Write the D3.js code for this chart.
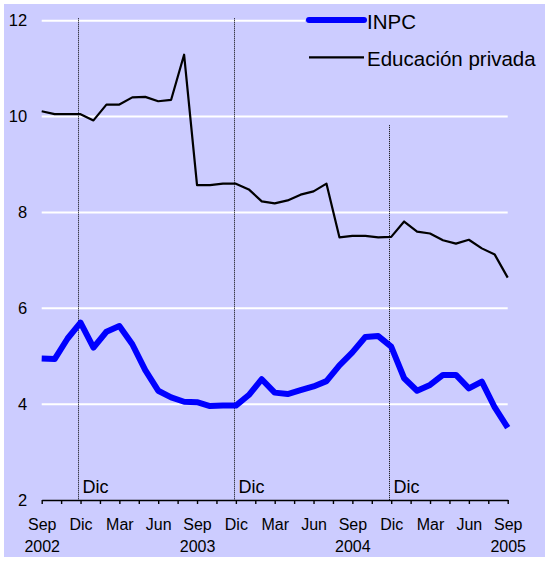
<!DOCTYPE html>
<html>
<head>
<meta charset="utf-8">
<script src="https://cdn.jsdelivr.net/npm/d3@7"></script>
<style>
  body { margin: 0; background: #fff; }
  svg text { font-family: "Liberation Sans", Arial, sans-serif; fill: #000; }
</style>
</head>
<body>
<div id="chart"></div>
<script>
// monthly, Sep 2002 .. Sep 2005
var inpc = [4.95, 4.94, 5.37, 5.70, 5.18, 5.51, 5.63, 5.25, 4.71, 4.28, 4.14, 4.05, 4.04,
            3.96, 3.97, 3.97, 4.19, 4.52, 4.24, 4.21, 4.29, 4.37, 4.48, 4.81, 5.08,
            5.40, 5.42, 5.20, 4.54, 4.28, 4.40, 4.61, 4.61, 4.33, 4.47, 3.93, 3.51];
var educacion = [10.11, 10.05, 10.05, 10.05, 9.92, 10.25, 10.25, 10.40, 10.41, 10.32, 10.35, 11.29, 8.57,
                 8.57, 8.60, 8.60, 8.48, 8.23, 8.19, 8.25, 8.37, 8.44, 8.60, 7.48, 7.51,
                 7.51, 7.48, 7.49, 7.81, 7.60, 7.56, 7.42, 7.35, 7.43, 7.25, 7.12, 6.64];
var monthLabels = ["Sep", "Dic", "Mar", "Jun"];
var yearLabels = ["2002", "2003", "2004", "2005"];
var yTicks = [2, 4, 6, 8, 10, 12];
var dicMonths = [3, 15, 27];
var dicTops = [12.05, 12.05, 9.82];
var seriesNames = ["INPC", "Educación privada"];

var width = 545, height = 561;
var svg = d3.select("#chart").append("svg")
  .attr("width", width).attr("height", height);

svg.append("rect")
  .attr("x", 4).attr("y", 4)
  .attr("width", width - 4).attr("height", 553)
  .attr("fill", "#ccccff");

var x = d3.scaleLinear().domain([0, inpc.length - 1]).range([41.7, 507.7]);
var y = d3.scaleLinear().domain([2, 12]).range([500, 20.7]);

// white gridlines
svg.append("g")
  .selectAll("line")
  .data(yTicks.slice(1))
  .enter().append("line")
  .attr("x1", x(0)).attr("x2", x(36))
  .attr("y1", function(d) { return y(d); })
  .attr("y2", function(d) { return y(d); })
  .attr("stroke", "#fff")
  .attr("stroke-width", 2);

// y labels
var yAxis = svg.append("g")
  .attr("transform", "translate(" + x(0) + ",0)")
  .call(d3.axisLeft(y).tickValues(yTicks).tickSize(0).tickPadding(14.5));
yAxis.select(".domain").remove();
yAxis.selectAll("text")
  .style("font-size", "16.5px")
  .attr("font-family", null);

// Dic markers (dotted)
function dicX(d) { return Math.floor(x(d - 0.12)) + 0.5; }

svg.append("g")
  .selectAll("line")
  .data(dicMonths)
  .enter().append("line")
  .attr("x1", dicX)
  .attr("x2", dicX)
  .attr("y1", function(d, i) { return y(dicTops[i]); })
  .attr("y2", y(2))
  .attr("stroke", "#000")
  .attr("stroke-width", 1)
  .attr("stroke-dasharray", "1,1");

svg.append("g")
  .selectAll("text")
  .data(dicMonths)
  .enter().append("text")
  .attr("x", function(d) { return dicX(d) + 4; })
  .attr("y", 492.5)
  .style("font-size", "18px")
  .text("Dic");

// x axis: ticks every month and a half
var xAxis = svg.append("g")
  .attr("transform", "translate(0," + y(2) + ")")
  .call(d3.axisBottom(x)
    .tickValues(d3.range(0, 36.01, 1.5))
    .tickSize(4)
    .tickSizeOuter(0)
    .tickFormat(""));
xAxis.select(".domain").attr("stroke", "#000").attr("stroke-width", 1.4);
xAxis.selectAll(".tick line").attr("stroke", "#000").attr("stroke-width", 1.4);

var monthAxis = svg.append("g")
  .attr("transform", "translate(0," + y(2) + ")")
  .call(d3.axisBottom(x)
    .tickValues(d3.range(0, 37, 3))
    .tickSize(0)
    .tickFormat(function(d) { return monthLabels[(d / 3) % 4]; }));
monthAxis.select(".domain").remove();
monthAxis.selectAll("text")
  .attr("y", 30).attr("dy", null)
  .attr("font-family", null)
  .style("font-size", "16px");

var yearAxis = svg.append("g")
  .attr("transform", "translate(0," + y(2) + ")")
  .call(d3.axisBottom(x)
    .tickValues([0, 12, 24, 36])
    .tickSize(0)
    .tickFormat(function(d) { return yearLabels[d / 12]; }));
yearAxis.select(".domain").remove();
yearAxis.selectAll("text")
  .attr("y", 51.7).attr("dy", null)
  .attr("font-family", null)
  .style("font-size", "16px");

// lines
var line = d3.line()
  .x(function(d, i) { return x(i); })
  .y(function(d) { return y(d); });

svg.append("path")
  .datum(educacion)
  .attr("fill", "none")
  .attr("stroke", "#000")
  .attr("stroke-width", 2.2)
  .attr("stroke-linejoin", "round")
  .attr("d", line);

svg.append("path")
  .datum(inpc)
  .attr("fill", "none")
  .attr("stroke", "#0000ff")
  .attr("stroke-width", 6)
  .attr("stroke-linejoin", "round")
  .attr("d", line);

// legend
var legend = svg.append("g");
legend.append("rect")
  .attr("x", 305).attr("y", 4)
  .attr("width", width - 305).attr("height", 70)
  .attr("fill", "#ccccff");

var legendY = [20, 57.3];
var legendColors = ["#0000ff", "#000"];
var legendWidths = [6, 2.2];
seriesNames.forEach(function(name, i) {
  legend.append("line")
    .attr("x1", 309).attr("x2", 364)
    .attr("y1", legendY[i]).attr("y2", legendY[i])
    .attr("stroke", legendColors[i])
    .attr("stroke-width", legendWidths[i])
    .attr("stroke-linecap", i === 0 ? "round" : "butt");
  legend.append("text")
    .attr("x", 367)
    .attr("y", legendY[i] + 8.8)
    .style("font-size", "20.5px")
    .text(name);
});
</script>
</body>
</html>
